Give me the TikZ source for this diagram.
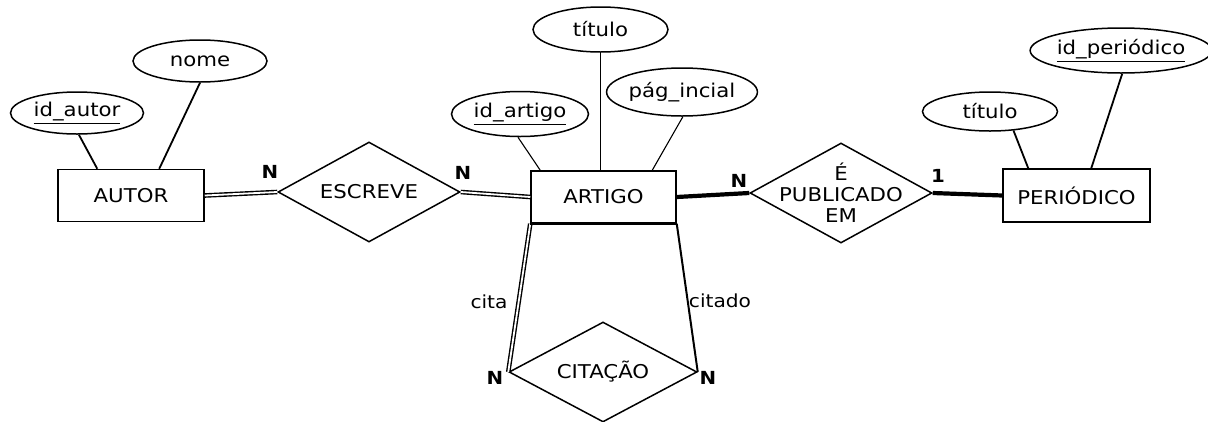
\documentclass[tikz,border=0pt]{standalone}
\usepackage{fontspec}
\setmainfont[FakeStretch=1.12]{DejaVu Sans}
\newfontfamily\erbold[FakeStretch=1.1]{DejaVu Sans Bold}
\usetikzlibrary{shapes.geometric}
\begin{document}
\begin{tikzpicture}[x=1pt,y=-1pt,
  every node/.style={font=\fontsize{19}{22}\selectfont},
  entity/.style={draw,line width=1.5pt,rectangle,minimum width=146pt,minimum height=52pt,inner sep=0pt},
  attr/.style={draw,line width=1.5pt,ellipse,minimum width=134pt,minimum height=43pt,inner sep=0pt},
  rel/.style={draw,line width=1.5pt,diamond,minimum width=183pt,minimum height=100pt,inner sep=0pt},
  reltext/.style={align=center,inner sep=0pt},
  conn/.style={line width=1.8pt},
  dbl/.style={line width=1.4pt,double,double distance=1.8pt},
  heavy/.style={line width=4.2pt},
  card/.style={font=\erbold\fontsize{18}{20}\selectfont,inner sep=0pt},
  role/.style={font=\fontsize{18}{20}\selectfont,inner sep=0pt}]
\useasboundingbox (0,0) rectangle (1208,421);
% entities
\node[entity] (autor) at (131,195.5) {AUTOR};
\node[entity,minimum width=145pt] (artigo) at (603.5,197) {ARTIGO};
\node[entity,minimum width=147pt,minimum height=53pt] (periodico) at (1076.5,195.5) {PERIÓDICO};
% relationships
\node[rel,minimum width=182pt] (escreve) at (369,192) {};
\node[reltext] (escrevetext) at (escreve.center) {ESCREVE};
\node[rel,minimum width=182pt] (publ) at (841,193) {};
\node[reltext] (publtext) at (publ.center) {É\\[-1pt]PUBLICADO\\[-1pt]EM};
\node[rel,minimum width=188pt] (citacao) at (603,372) {};
\node[reltext] (citacaotext) at (citacao.center) {CITAÇÃO};
% attributes
\node[attr,minimum width=133pt,minimum height=42pt] (idautor) at (77,113) {\underline{id\_autor}};
\node[attr,minimum height=42pt] (nome) at (200,61) {nome};
\node[attr,minimum width=137pt,minimum height=45pt] (idartigo) at (520,114) {\underline{id\_artigo}};
\node[attr,minimum width=135pt,minimum height=45pt] (titulo) at (600.5,29.5) {título};
\node[attr,minimum width=134pt,minimum height=48pt] (pag) at (682,92) {pág\_incial};
\node[attr,minimum width=135pt,minimum height=39pt] (titulob) at (990,111.5) {título};
\node[attr,minimum width=173pt,minimum height=45pt] (idper) at (1121,50.5) {\underline{id\_periódico}};
% attribute links
\draw[conn] (idautor.-85) -- ([xshift=40pt]autor.north west);
\draw[conn] (nome.-90) -- ([xshift=102pt]autor.north west);
\draw[line width=1.1pt] (idartigo.-95) -- ([xshift=10pt]artigo.north west);
\draw[conn] (titulo.south) -- (titulo.south |- artigo.north);
\draw[line width=1.1pt] (pag.-88) -- ([xshift=122pt]artigo.north west);
\draw[conn] (titulob.-39) -- ([xshift=26pt]periodico.north west);
\draw[conn] (idper.-87) -- ([xshift=89pt]periodico.north west);
% relationship links
\draw[dbl] (autor.east) -- (escreve.west);
\draw[dbl] (escreve.east) -- (artigo.west);
\draw[heavy] (artigo.east) -- (publ.west);
\draw[heavy] (publ.east) -- (periodico.west);
\draw[dbl] (artigo.south west) -- (citacao.west);
\draw[line width=2pt] (artigo.south east) -- (citacao.east);
\draw[line width=2.4pt] (artigo.south west) -- (artigo.south east);
% cardinalities and roles
\node[card] (n1) at (270,172) {N};
\node[card] (n2) at (463,173) {N};
\node[card] (n3) at (739,181) {N};
\node[card] (c1) at (938,176) {1};
\node[card] (n4) at (495,378) {N};
\node[card] (n5) at (708,378) {N};
\node[role] (cita) at (489,302) {cita};
\node[role] (citado) at (720,301) {citado};
\end{tikzpicture}
\end{document}
